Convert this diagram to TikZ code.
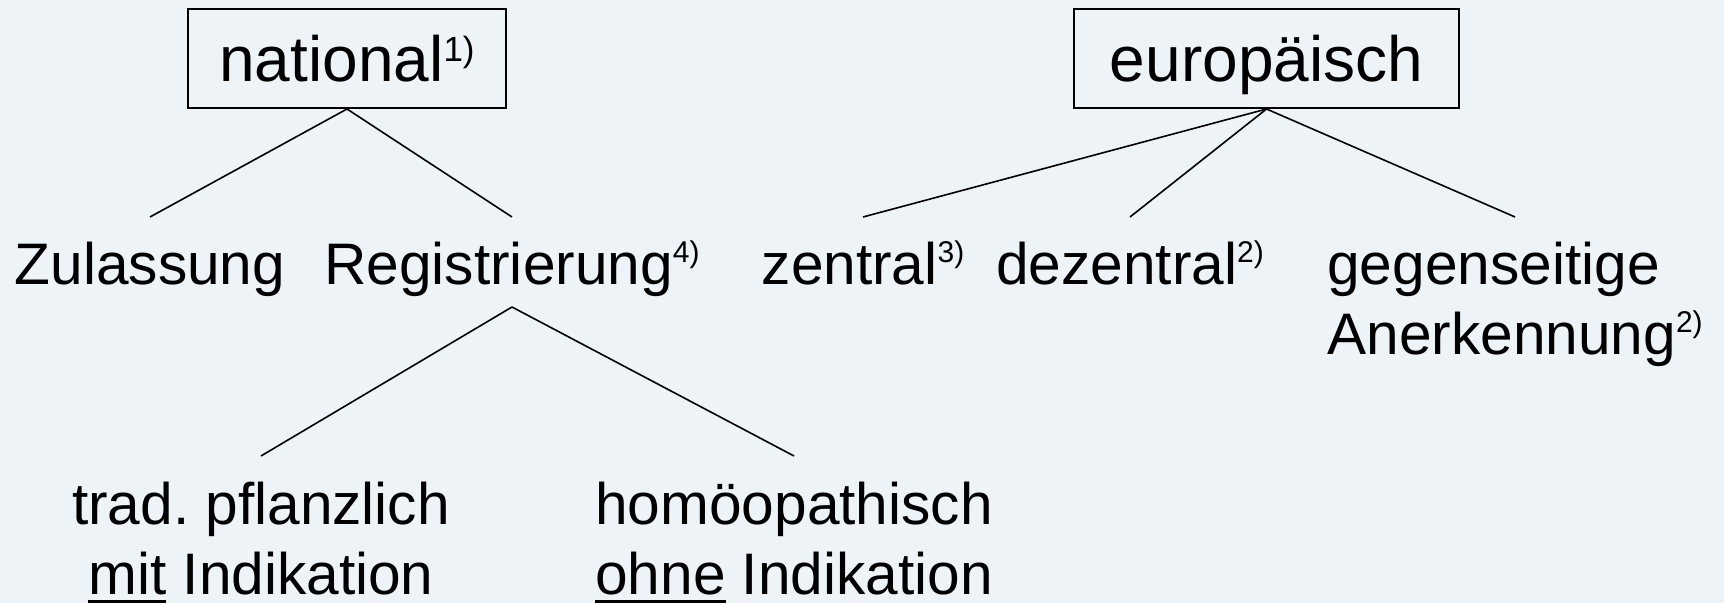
\documentclass[tikz,border=0pt]{standalone}
\usepackage{fontspec}
\setmainfont{Liberation Sans}
\definecolor{bgcol}{RGB}{238,243,248}
% footnote marks: raised small text, for box titles and for plain labels
\newcommand\boxmark[1]{\raisebox{10pt}{\fontsize{17.5}{17.5}\selectfont #1}}
\newcommand\labmark[1]{\raisebox{11pt}{\fontsize{15}{15}\selectfont #1}}
% underline drawn as a rule just below the baseline
\newcommand\ulword[1]{\setbox0\hbox{#1}\rlap{\rule[-4.2pt]{\wd0}{1.4pt}}\box0\relax}
\begin{document}
\frenchspacing
\begin{tikzpicture}[x=0.5pt,y=-0.5pt,
  every node/.style={font=\fontsize{29.3}{35}\selectfont, inner sep=0pt},
  topbox/.style={draw, line width=1pt, minimum height=49.5pt,
    font=\fontsize{32}{35}\selectfont, text height=24pt, text depth=0.5pt},
  item/.style={anchor=north, align=center},
  link/.style={line width=0.8pt}]
  % background
  \fill[bgcol] (0,0) rectangle (1724,603);
  \useasboundingbox (0,0) rectangle (1724,603);

  % top level
  \node[topbox, minimum width=159pt] (nat) at (347,58.5) {national\boxmark{1)}};
  \node[topbox, minimum width=192.5pt] (eur) at (1266.5,58.5) {europäisch};

  % second level
  \node[item] (zul) at (150,235) {\strut Zulassung};
  \node[item] (reg) at (512,235) {\strut Registrierung\labmark{4)}};
  \node[item] (zen) at (863,235) {\strut zentral\labmark{3)}};
  \node[item] (dez) at (1130,235) {\strut dezentral\labmark{2)}};
  \node[item, anchor=north west, align=left] (geg) at (1327,235)
    {\strut gegenseitige\\Anerkennung\labmark{2)}};

  % third level
  \node[item] (trad) at (261,475) {\strut trad. pflanzlich\\\ulword{mit} Indikation};
  \node[item] (hom) at (794,475) {\strut homöopathisch\\\ulword{ohne} Indikation};

  % connector ends just above the labels
  \coordinate (zulT) at ([yshift=9pt]zul.north);
  \coordinate (regT) at ([yshift=9pt]reg.north);
  \coordinate (zenT) at ([yshift=9pt]zen.north);
  \coordinate (dezT) at ([yshift=9pt]dez.north);
  \coordinate (gegT) at ([yshift=9pt]geg.north);
  \coordinate (tradT) at ([yshift=9.5pt]trad.north);
  \coordinate (homT) at ([yshift=9.5pt]hom.north);
  \coordinate (regB) at (512,307);

  \draw[link] (nat.south) -- (zulT);
  \draw[link] (nat.south) -- (regT);
  \draw[link] (eur.south) -- (zenT);
  \draw[link] (eur.south) -- (dezT);
  \draw[link] (eur.south) -- (gegT);
  \draw[link] (regB) -- (tradT);
  \draw[link] (regB) -- (homT);
\end{tikzpicture}
\end{document}
